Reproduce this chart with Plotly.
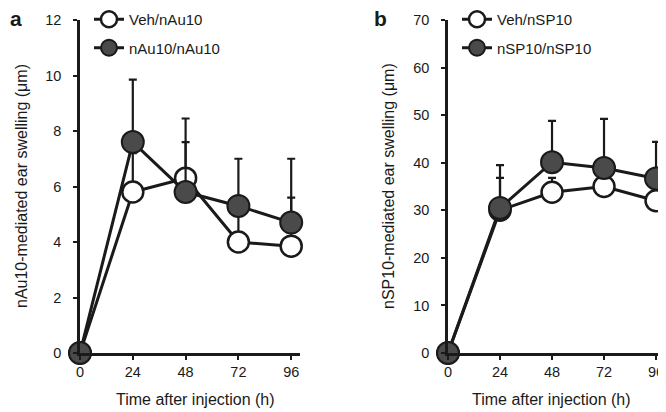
import plotly.graph_objects as go

hours = [0, 24, 48, 72, 96]
x_ticks = [0, 24, 48, 72, 96]

# Panel a
veh_au = [0, 5.8, 6.3, 4.0, 3.85]
veh_au_err = [0, 1.4, 1.3, 1.0, 1.75]
au_au = [0, 7.6, 5.8, 5.3, 4.7]
au_au_err = [0, 2.25, 2.65, 1.7, 2.3]

# Panel b
veh_sp = [0, 30.0, 33.8, 35.0, 32.0]
veh_sp_err = [0, 6.8, 3.0, 3.5, 6.0]
sp_sp = [0, 30.5, 40.1, 38.9, 36.7]
sp_sp_err = [0, 9.0, 8.7, 10.3, 7.7]

# page body has an 8px margin, so the figure is drawn 8px in from the window corner
OFF = 8
W, H = 666 - OFF, 412 - OFF
FONT = "Liberation Sans"
INK = "#1a1a1a"

def px(v):
    return (v - OFF) / W

def py(v):
    return 1 - (v - OFF) / H

fig = go.Figure()

def add_pair(xa, ya, names, v1, e1, v2, e2, legend):
    fig.add_trace(go.Scatter(
        x=hours, y=v1, name=names[0], xaxis=xa, yaxis=ya, legend=legend,
        legendgroup=names[0],
        mode="lines+markers", cliponaxis=False,
        line=dict(color=INK, width=3),
        marker=dict(size=21, color="white", line=dict(color=INK, width=2.5)),
        error_y=dict(type="data", array=e1, arrayminus=[0]*5, color=INK,
                     thickness=2.2, width=4, symmetric=False),
        showlegend=True, legendrank=1))
    fig.add_trace(go.Scatter(
        x=hours, y=v2, name=names[1], xaxis=xa, yaxis=ya, legend=legend,
        legendgroup=names[1],
        mode="lines+markers", cliponaxis=False,
        line=dict(color=INK, width=3),
        marker=dict(size=22, color="#4a4a4a", line=dict(color=INK, width=2)),
        error_y=dict(type="data", array=e2, arrayminus=[0]*5, color=INK,
                     thickness=2.2, width=4, symmetric=False),
        showlegend=True, legendrank=2))

add_pair("x", "y", ["Veh/nAu10", "nAu10/nAu10"], veh_au, veh_au_err, au_au, au_au_err, "legend")
add_pair("x2", "y2", ["Veh/nSP10", "nSP10/nSP10"], veh_sp, veh_sp_err, sp_sp, sp_sp_err, "legend2")

axis_common = dict(showline=True, linecolor=INK, linewidth=2.5, ticks="outside",
                   ticklen=4, tickwidth=2, tickcolor=INK, showgrid=False, zeroline=False,
                   automargin=False,
                   tickfont=dict(family=FONT, size=14.5, color=INK))

legend_common = dict(xanchor="left", yanchor="top",
                     font=dict(family=FONT, size=15, color=INK), bgcolor="rgba(0,0,0,0)",
                     tracegroupgap=6, itemwidth=30, traceorder="grouped")

fig.update_layout(
    width=W, height=H, margin=dict(l=0, r=0, t=0, b=0, autoexpand=False),
    paper_bgcolor="white", plot_bgcolor="white",
    xaxis=dict(domain=[px(80), px(300)], range=[0, 100], tickvals=x_ticks,
               anchor="y", **axis_common),
    yaxis=dict(domain=[py(353), py(20)], range=[0, 12], tickvals=[0, 2, 4, 6, 8, 10, 12],
               anchor="x", ticklabelstandoff=9, **axis_common),
    xaxis2=dict(domain=[px(448), 1.0], range=[0, 100.6], tickvals=x_ticks,
                anchor="y2", **axis_common),
    yaxis2=dict(domain=[py(353), py(20)], range=[0, 70], tickvals=[0, 10, 20, 30, 40, 50, 60, 70],
                anchor="x2", ticklabelstandoff=9, **axis_common),
    legend=dict(x=px(89), y=py(3), **legend_common),
    legend2=dict(x=px(457), y=py(3), **legend_common),
)

ann_font = dict(family=FONT, size=16, color=INK)
annotations = [
    dict(text="<b>a</b>", x=px(16), y=py(18), font=dict(family=FONT, size=21, color=INK)),
    dict(text="<b>b</b>", x=px(381), y=py(18), font=dict(family=FONT, size=21, color=INK)),
    dict(text="Time after injection (h)", x=px(195), y=py(399), font=ann_font),
    dict(text="Time after injection (h)", x=px(551), y=py(399), font=ann_font),
    dict(text="nAu10-mediated ear swelling (μm)", x=px(22), y=py(186), textangle=-90, font=ann_font),
    dict(text="nSP10-mediated ear swelling (μm)", x=px(389), y=py(186), textangle=-90, font=ann_font),
]
for a in annotations:
    fig.add_annotation(xref="paper", yref="paper", showarrow=False,
                       xanchor="center", yanchor="middle", **a)

fig.write_html("out.html")
